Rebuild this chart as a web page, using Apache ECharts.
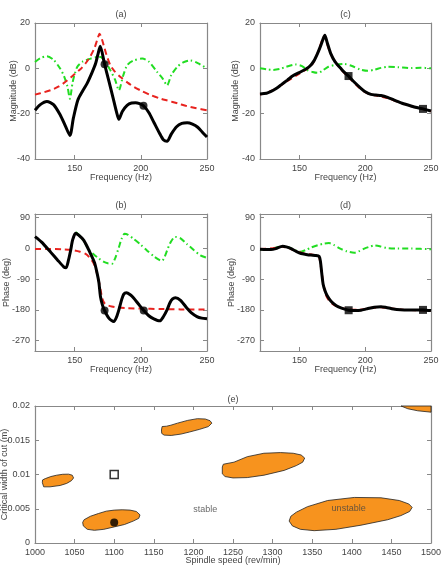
<!DOCTYPE html>
<html>
<head>
<meta charset="utf-8">
<script src="https://cdn.jsdelivr.net/npm/echarts@6/dist/echarts.min.js"></script>
<style>
  html, body { margin: 0; padding: 0; background: #fff; }
  #chart { width: 442px; height: 565px; }
</style>
</head>
<body>
<div id="chart"></div>
<script>
// ---- panel (a): magnitude, [Hz, dB]
const aBlack = [[120,-18.5],[124,-16],[129,-14.6],[134,-16],[139,-20.5],[143,-25.5],[146.4,-29.6],[149,-22],[152.4,-14],[156,-10],[159.5,-6.5],[163,-2],[165.8,2.1],[167.5,6],[169.3,9.7],[172.6,1.8],[176,-6],[179,-13],[181.5,-19],[183.4,-22.5],[186,-19],[189.6,-16.3],[193,-15.3],[196,-15.2],[199,-15.6],[202,-16.5],[206,-19.5],[210,-24],[214,-28.5],[217,-31.5],[219.8,-32.2],[223,-29],[227,-25.8],[231,-24.3],[235,-24],[239,-24.6],[243,-26],[247,-28.5],[250,-30.3]];
const aRed = [[120,-11.6],[126,-10.7],[132,-9.6],[138,-8],[144,-5.5],[150,-2.5],[155,0],[159,2.8],[162,5.5],[165,9],[167,12.5],[168.8,15.3],[170.5,13],[172,10],[174,6],[177,1.3],[180,-1.2],[184.6,-3.8],[190,-6.3],[195,-8.3],[200,-9.8],[207,-11.7],[214,-13.2],[220,-14.2],[228,-15.5],[235,-16.7],[242,-17.6],[250,-18.5]];
const aGreen = [[120,2.8],[124,4.5],[129,5.3],[134,3.8],[139,-0.1],[142,-3.5],[144.5,-8],[146.4,-13.4],[148.5,-6],[151.9,0.6],[156,3],[162,4.3],[166,4.9],[169.5,5],[173,3],[177,-0.9],[180.5,-5],[183.4,-9.7],[186.5,-3.5],[189.6,1.3],[194,3.3],[201,4.3],[206,3],[212.3,-1.6],[216.5,-4.5],[219.8,-7.5],[223,-3],[227.4,0.6],[232,2.6],[237.4,3.5],[243,2.3],[250,-0.1]];
const aDots = [[172.6,1.8],[202,-16.5]];

// ---- panel (b): phase, [Hz, deg]
const bBlack = [[120,34],[125,18],[131.8,-11.3],[137,-34],[141.9,-54.8],[143.5,-57],[145.3,-35],[147,-5],[148.5,25],[150.7,43.7],[153,38],[157,22.4],[162,-16],[165,-42],[167,-74],[168.3,-100],[169.5,-141.6],[171,-166],[172.6,-182],[175.8,-204],[179.6,-214],[181.5,-202],[183.4,-180],[185.5,-150],[187.1,-134],[189.1,-130],[192,-136],[194.7,-146],[198,-162],[202.2,-182],[206,-197],[209.8,-206],[214.3,-212],[217,-200],[219.8,-180],[222,-159],[224,-148],[226.1,-144.5],[230,-152],[234.9,-175],[238,-188],[242.4,-199.5],[246,-204],[250,-206]];
const bRed = [[120,-2],[130,-2],[140,-3],[148,-5],[154,-10],[158,-16],[161,-26],[164,-42],[166,-62],[168,-92],[169.5,-120],[170.8,-146],[172.5,-160],[174.6,-166],[178,-170],[182.2,-173],[190,-175],[200,-176],[215,-177.5],[230,-178.5],[250,-179]];
const bGreen = [[150.7,47],[154,36],[157,20],[161,-5],[164.5,-18],[168,-29],[172.1,-40],[175,-44],[178.3,-45],[180.5,-30],[183.4,3],[185.5,28],[187.6,42],[190,40],[194.7,27],[200,10],[204.8,-7],[210,-24],[214.3,-35],[216,-37],[218,-25],[219.8,-7],[222,14],[224.8,31],[226.1,33],[230,29],[234.9,12],[240,-5],[245,-21],[250,-28]];
const bDots = [[172.6,-182],[202.2,-182]];

// ---- panel (c): magnitude
const cBlack = [[120,-11.3],[125,-11],[128,-10.3],[132,-9],[136,-7.3],[140.8,-5.2],[145,-3.3],[151,-1.5],[155,-0.3],[158,1],[161,3.3],[163.7,6.5],[166,9.8],[168,13],[169.3,14.6],[171,11.5],[173.8,6.5],[177,3],[181.4,0],[184,-1.7],[187.3,-3.4],[191,-5.7],[196.7,-8.8],[200,-10.3],[204.3,-11.5],[208,-11.8],[212,-12],[217,-12.8],[222,-14],[228,-15.4],[234.8,-16.6],[240,-17.4],[243.9,-17.9],[250,-18.8]];
const cRed = [[120,-11.6],[130,-9.6],[140,-5.9],[150,-2.3],[156,-0.2],[160,2],[164,7],[169,14.2],[172,9],[175,5],[180,0.6],[185,-2.6],[190,-5.4],[195,-8.3],[200,-10.5],[205,-11.6],[210,-12.2],[215,-12.9],[220,-13.8],[225,-14.8],[235,-16.7],[245,-18.2],[250,-18.9]];
const cGreen = [[120,0],[125,-0.4],[130,-0.7],[135,-0.3],[140,0.7],[147,1.7],[152,1],[156,-0.8],[160,-1.6],[163.7,-2],[167,-1.2],[172,0.7],[178,1.6],[184,1.9],[190,1],[196,-0.5],[201.8,-1.1],[207,-0.6],[212,0.2],[217,0.7],[225,0.5],[235,0.1],[242,0.3],[250,0]];
const cSquares = [[187.3,-3.4],[243.9,-17.9]];

// ---- panel (d): phase
const dBlack = [[120,-3],[125,-4],[128.4,-4],[132,-1],[137.2,6],[140,4],[143.6,-1],[147,-8],[151.2,-15.4],[155,-18],[158.8,-20],[162,-21],[165,-24],[166,-40],[167,-75],[168,-105],[169.5,-125],[171,-138],[174,-155],[178,-168],[182,-175],[187.4,-181],[192,-182],[196.8,-181],[201,-177],[206.9,-172],[212,-170.6],[216,-173],[219.6,-176],[224,-179],[229.7,-180],[236,-180],[243.9,-180],[250,-182]];
const dRed = [[120,-2],[130,0],[137,4.5],[145,-4],[152,-14],[160,-19],[164.5,-22],[166.5,-60],[168,-100],[170,-135],[172,-150],[176,-165],[181,-174],[187,-178],[195,-180],[205,-174],[212,-172],[220,-176],[230,-180],[240,-181],[250,-182]];
const dGreen = [[120,-3],[128,-2],[137.2,6],[142,2],[147,-6],[151,-10],[155,-5],[158.8,2],[164,9],[168,13],[172.5,15],[176,10],[181,-1],[186,-9],[191.7,-13],[195,-9],[199.3,-1],[203,4],[206.9,8],[211,6],[216,1],[225,-1],[235,-1],[250,-3]];
const dSquares = [[187.4,-181],[243.9,-180]];

// ---- panel (e): unstable islands, [rev/min, width m]
const island1 = [[1009.3,0.0088],[1009.5,0.0092],[1013,0.0094],[1020,0.0097],[1027.5,0.0099],[1035,0.01003],[1042.4,0.01005],[1047,0.0099],[1048.7,0.0095],[1046,0.0091],[1040,0.0087],[1031.8,0.0084],[1019,0.0082],[1011,0.0082]];
const island2 = [[1060.2,0.0030],[1062,0.0034],[1069.9,0.0039],[1080,0.0043],[1090,0.00465],[1100,0.0048],[1110,0.00485],[1120,0.0048],[1128,0.0046],[1132.6,0.0041],[1131,0.0036],[1124,0.0032],[1113,0.0027],[1100,0.00235],[1087,0.0020],[1075,0.00185],[1066,0.0020],[1061,0.0025]];
const island3 = [[1159.7,0.0165],[1160.5,0.0170],[1166,0.01705],[1171.6,0.0172],[1180,0.0175],[1192.8,0.0179],[1205,0.01815],[1215,0.0181],[1221,0.01785],[1223.3,0.0175],[1219,0.0170],[1208,0.0166],[1195,0.0162],[1184.3,0.0159],[1172,0.0157],[1163,0.01575],[1160,0.0160]];
const island4 = [[1236.5,0.0111],[1237.8,0.0115],[1251.3,0.0118],[1268,0.0126],[1289,0.0131],[1310,0.0132],[1326,0.0131],[1336,0.01285],[1340.5,0.0124],[1338,0.0118],[1330,0.0113],[1314.6,0.0106],[1289.2,0.0099],[1268,0.00955],[1250,0.0095],[1240,0.0097],[1236.5,0.0101]];
const island5 = [[1320.9,0.0032],[1323,0.0039],[1330,0.0045],[1344,0.0053],[1369.4,0.0062],[1403.2,0.00665],[1436.9,0.0066],[1460,0.0062],[1472,0.0057],[1476.2,0.0052],[1473,0.0046],[1462,0.0040],[1445.4,0.0034],[1411.6,0.0026],[1380,0.0020],[1352.5,0.0018],[1335,0.0020],[1325,0.0025]];
const island6 = [[1462.2,0.0200],[1470.7,0.0196],[1483.3,0.0193],[1500,0.0191],[1500,0.0200]];
const islands = [island1, island2, island3, island4, island5, island6];
const eSquare = [[1100,0.01]];
const eDot = [[1100,0.003]];
const regionLabels = [{ name: 'stable', value: [1215,0.0049] }, { name: 'unstable', value: [1396,0.0051] }];

// ---- tick values
const freqTicks = [150,200,250];
const magTicks = [-40,-20,0,20];
const phaseTicks = [-270,-180,-90,0,90];

const frame = '#888';
const textColor = '#444';
const font = 'Liberation Sans, Arial, sans-serif';
const black = '#000';
const red = '#e8231f';
const green = '#22dd22';
const orange = '#f7931e';

const grids = [
  { left: 35, top: 23, width: 172, height: 136 },   // a
  { left: 35, top: 214, width: 172, height: 137 },  // b
  { left: 260, top: 23, width: 171, height: 136 },  // c
  { left: 260, top: 214, width: 171, height: 137 }, // d
  { left: 35, top: 406, width: 396, height: 137 }   // e
].map(g => Object.assign({ outerBoundsMode: 'none', containLabel: false }, g));

const xAxes = [];
const yAxes = [];

function addAxes(g, xo, yo) {
  const tick = { inside: true, length: 4, lineStyle: { color: frame, width: 1 } };
  const line = { show: true, onZero: false, lineStyle: { color: frame, width: 1.2 } };
  const label = { color: textColor, fontSize: 9, fontFamily: font };
  const nameStyle = { color: textColor, fontSize: 9, fontFamily: font };
  xAxes.push({
    gridIndex: g, type: 'value', position: 'bottom', min: xo.min, max: xo.max, interval: xo.interval,
    axisLine: line, axisTick: Object.assign({ customValues: xo.ticks }, tick),
    axisLabel: Object.assign({ margin: 5, customValues: xo.ticks, formatter: v => String(v) }, label),
    splitLine: { show: false },
    name: xo.name, nameLocation: 'middle', nameGap: xo.nameGap, nameMoveOverlap: false, nameTextStyle: nameStyle
  });
  xAxes.push({
    gridIndex: g, type: 'value', position: 'top', min: xo.min, max: xo.max, interval: xo.interval,
    axisLine: line, axisTick: Object.assign({ customValues: xo.ticks }, tick),
    axisLabel: { show: false }, splitLine: { show: false },
    name: xo.title, nameLocation: 'middle', nameGap: xo.titleGap, nameMoveOverlap: false, nameTextStyle: nameStyle
  });
  yAxes.push({
    gridIndex: g, type: 'value', position: 'left', min: yo.min, max: yo.max, interval: yo.interval,
    axisLine: line, axisTick: Object.assign({ customValues: yo.ticks }, tick),
    axisLabel: Object.assign({ margin: 5, customValues: yo.ticks, formatter: yo.fmt }, label),
    splitLine: { show: false },
    name: yo.name, nameLocation: 'middle', nameGap: yo.nameGap, nameRotate: 90, nameMoveOverlap: false,
    nameTextStyle: nameStyle
  });
  yAxes.push({
    gridIndex: g, type: 'value', position: 'right', min: yo.min, max: yo.max, interval: yo.interval,
    axisLine: line, axisTick: Object.assign({ customValues: yo.ticks }, tick),
    axisLabel: { show: false }, splitLine: { show: false }
  });
}

const freqX = (title) => ({ min: 120, max: 250, ticks: freqTicks, name: 'Frequency (Hz)', nameGap: 14, title: title, titleGap: 4 });
const magY = (gap) => ({ min: -40, max: 20, interval: 20, ticks: magTicks, name: 'Magnitude (dB)', nameGap: gap });
const phaseY = (gap) => ({ min: -300, max: 100, ticks: phaseTicks, name: 'Phase (deg)', nameGap: gap });

addAxes(0, freqX('(a)'), magY(17));
addAxes(1, freqX('(b)'), phaseY(24));
addAxes(2, freqX('(c)'), magY(20));
addAxes(3, freqX('(d)'), phaseY(24));
addAxes(4,
  { min: 1000, max: 1500, interval: 50, name: 'Spindle speed (rev/min)', nameGap: 13, title: '(e)', titleGap: 2 },
  { min: 0, max: 0.02, interval: 0.005, name: 'Critical width of cut (m)', nameGap: 26,
    fmt: v => String(+v.toFixed(3)) });

function line(g, data, color, width, type) {
  return {
    type: 'line', xAxisIndex: 2 * g, yAxisIndex: 2 * g, data: data,
    symbol: 'none', smooth: 0.25, silent: true,
    lineStyle: { color: color, width: width, type: type }
  };
}
function marks(g, data, symbol) {
  return {
    type: 'scatter', xAxisIndex: 2 * g, yAxisIndex: 2 * g, data: data,
    symbol: symbol, symbolSize: 8, z: 5, itemStyle: { color: black }
  };
}

const dashed = [6, 4];
const dashDot = [6, 3, 1.5, 3];

const series = [
  line(0, aGreen, green, 2, dashDot), line(0, aRed, red, 2, dashed), line(0, aBlack, black, 3, 'solid'), marks(0, aDots, 'circle'),
  line(1, bGreen, green, 2, dashDot), line(1, bRed, red, 2, dashed), line(1, bBlack, black, 3, 'solid'), marks(1, bDots, 'circle'),
  line(2, cGreen, green, 2, dashDot), line(2, cRed, red, 2, dashed), line(2, cBlack, black, 3, 'solid'), marks(2, cSquares, 'rect'),
  line(3, dGreen, green, 2, dashDot), line(3, dRed, red, 2, dashed), line(3, dBlack, black, 3, 'solid'), marks(3, dSquares, 'rect'),
  {
    type: 'custom', xAxisIndex: 8, yAxisIndex: 8, silent: true,
    data: islands.map(s => s[0]),
    renderItem: function (params, api) {
      const pts = islands[params.dataIndex].map(p => api.coord(p));
      return {
        type: 'polygon',
        shape: { points: pts },
        style: { fill: orange, stroke: '#222', lineWidth: 0.8 }
      };
    }
  },
  {
    type: 'scatter', xAxisIndex: 8, yAxisIndex: 8, data: eSquare, symbol: 'rect', symbolSize: 8, z: 5,
    itemStyle: { color: '#fff', borderColor: black, borderWidth: 1.5 }
  },
  marks(4, eDot, 'circle'),
  {
    type: 'scatter', xAxisIndex: 8, yAxisIndex: 8, data: regionLabels, symbolSize: 0, z: 6,
    label: { show: true, position: 'inside', formatter: p => p.name, color: textColor, fontSize: 9, fontFamily: font }
  }
];

const chart = echarts.init(document.getElementById('chart'));
chart.setOption({
  animation: false,
  backgroundColor: '#fff',
  textStyle: { fontFamily: font },
  grid: grids,
  xAxis: xAxes,
  yAxis: yAxes,
  series: series
});
</script>
</body>
</html>
